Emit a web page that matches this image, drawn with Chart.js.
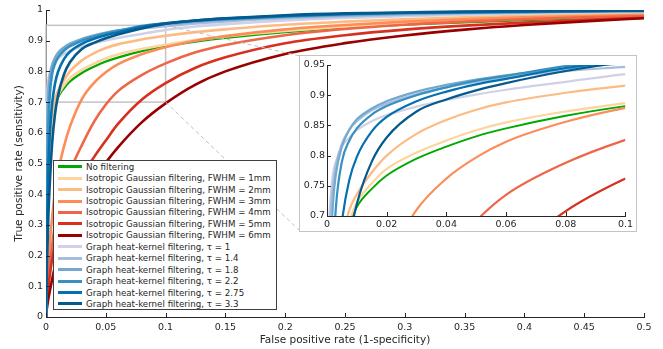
<!DOCTYPE html>
<html>
<head>
<meta charset="utf-8">
<script src="https://cdn.jsdelivr.net/npm/chart.js@4.4.1/dist/chart.umd.min.js"></script>
<style>
  html, body { margin: 0; padding: 0; background: #fff; }
  #wrap { position: relative; width: 663px; height: 349px; font-family: "DejaVu Sans", sans-serif; }
  #main { position: absolute; left: 0; top: 0; }
  #insetBox { position: absolute; left: 299px; top: 55px; width: 338px; height: 177px;
              box-sizing: border-box; border: 1px solid #c4c4c4; background: #fff; }
  #legend { position: absolute; left: 53px; top: 160px; width: 224px; height: 150px;
            box-sizing: border-box; border: 1px solid #404040; background: #fff;
            font-size: 8.7px; color: #262626; }
  .row { height: 11.44px; display: flex; align-items: center; white-space: nowrap; }
  .swatch { width: 24px; height: 3px; margin: 0 4px 0 4px; flex: none; }
</style>
</head>
<body>
<div id="wrap">
  <canvas id="main" width="663" height="349"></canvas>
  <div id="legend"></div>
  <div id="insetBox"><canvas id="inset" width="336" height="175"></canvas></div>
</div>
<script>
// false positive rate grid shared by all curves
const fpr = [0, 0.0005, 0.001, 0.002, 0.003, 0.005, 0.0075, 0.01, 0.015, 0.02, 0.03, 0.04, 0.05,
             0.06, 0.08, 0.1, 0.125, 0.15, 0.2, 0.25, 0.3, 0.35, 0.4, 0.45, 0.5];

// true positive rate for each method
const tprNone   = [0, 0.36, 0.43, 0.51, 0.56, 0.63, 0.685, 0.715, 0.745, 0.767, 0.795, 0.815, 0.832, 0.845, 0.866, 0.882, 0.897, 0.909, 0.928, 0.942, 0.952, 0.96, 0.967, 0.973, 0.978];
const tprGauss1 = [0, 0.22, 0.33, 0.46, 0.54, 0.63, 0.69, 0.722, 0.754, 0.778, 0.805, 0.825, 0.842, 0.855, 0.873, 0.887, 0.902, 0.914, 0.932, 0.946, 0.957, 0.965, 0.972, 0.977, 0.981];
const tprGauss2 = [0, 0.36, 0.45, 0.54, 0.59, 0.66, 0.71, 0.736, 0.772, 0.8, 0.836, 0.859, 0.876, 0.888, 0.904, 0.916, 0.928, 0.937, 0.952, 0.962, 0.97, 0.976, 0.981, 0.985, 0.988];
const tprGauss3 = [0, 0.06, 0.1, 0.17, 0.23, 0.32, 0.41, 0.47, 0.555, 0.62, 0.71, 0.762, 0.797, 0.823, 0.856, 0.879, 0.9, 0.915, 0.937, 0.951, 0.962, 0.97, 0.976, 0.98, 0.984];
const tprGauss4 = [0, 0.04, 0.07, 0.12, 0.16, 0.23, 0.3, 0.35, 0.42, 0.475, 0.56, 0.635, 0.692, 0.735, 0.788, 0.826, 0.862, 0.886, 0.918, 0.938, 0.952, 0.962, 0.97, 0.976, 0.98];
const tprGauss5 = [0, 0.03, 0.055, 0.095, 0.13, 0.185, 0.235, 0.275, 0.335, 0.385, 0.46, 0.52, 0.575, 0.628, 0.708, 0.762, 0.812, 0.846, 0.892, 0.918, 0.936, 0.949, 0.959, 0.967, 0.975];
const tprGauss6 = [0, 0.02, 0.035, 0.06, 0.08, 0.12, 0.165, 0.2, 0.26, 0.31, 0.385, 0.448, 0.503, 0.552, 0.634, 0.696, 0.757, 0.8, 0.857, 0.892, 0.917, 0.936, 0.951, 0.963, 0.973];
const tprHeat1   = [0, 0.62, 0.715, 0.77, 0.79, 0.815, 0.83, 0.842, 0.857, 0.867, 0.881, 0.892, 0.901, 0.909, 0.922, 0.935, 0.946, 0.954, 0.966, 0.974, 0.98, 0.985, 0.989, 0.992, 0.994];
const tprHeat14  = [0, 0.55, 0.68, 0.75, 0.785, 0.82, 0.843, 0.857, 0.875, 0.886, 0.902, 0.913, 0.922, 0.93, 0.94, 0.947, 0.956, 0.963, 0.973, 0.98, 0.985, 0.989, 0.992, 0.994, 0.996];
const tprHeat18  = [0, 0.45, 0.6, 0.72, 0.77, 0.815, 0.843, 0.86, 0.878, 0.89, 0.906, 0.917, 0.926, 0.933, 0.944, 0.953, 0.962, 0.968, 0.977, 0.983, 0.988, 0.991, 0.993, 0.995, 0.997];
const tprHeat22  = [0, 0.3, 0.45, 0.62, 0.715, 0.79, 0.825, 0.845, 0.868, 0.882, 0.9, 0.913, 0.924, 0.932, 0.948, 0.957, 0.965, 0.971, 0.98, 0.986, 0.99, 0.992, 0.994, 0.996, 0.997];
const tprHeat275 = [0, 0.2, 0.32, 0.48, 0.58, 0.69, 0.76, 0.798, 0.84, 0.864, 0.89, 0.906, 0.918, 0.927, 0.945, 0.957, 0.966, 0.972, 0.981, 0.987, 0.991, 0.993, 0.995, 0.997, 0.998];
const tprHeat33  = [0, 0.12, 0.2, 0.33, 0.42, 0.56, 0.66, 0.72, 0.79, 0.83, 0.873, 0.893, 0.908, 0.92, 0.94, 0.955, 0.966, 0.973, 0.983, 0.989, 0.992, 0.995, 0.996, 0.997, 0.998];

const seriesLabels = [
  'No filtering',
  'Isotropic Gaussian filtering, FWHM = 1mm',
  'Isotropic Gaussian filtering, FWHM = 2mm',
  'Isotropic Gaussian filtering, FWHM = 3mm',
  'Isotropic Gaussian filtering, FWHM = 4mm',
  'Isotropic Gaussian filtering, FWHM = 5mm',
  'Isotropic Gaussian filtering, FWHM = 6mm',
  'Graph heat-kernel filtering, τ = 1',
  'Graph heat-kernel filtering, τ = 1.4',
  'Graph heat-kernel filtering, τ = 1.8',
  'Graph heat-kernel filtering, τ = 2.2',
  'Graph heat-kernel filtering, τ = 2.75',
  'Graph heat-kernel filtering, τ = 3.3'
];
const seriesValues = [tprNone, tprGauss1, tprGauss2, tprGauss3, tprGauss4, tprGauss5, tprGauss6,
                      tprHeat1, tprHeat14, tprHeat18, tprHeat22, tprHeat275, tprHeat33];
const seriesColors = ['#00a800', '#fdd49e', '#fdbb84', '#fc8d59', '#ef6548', '#d7301f', '#990000',
                      '#d0d1e6', '#a6bddb', '#74a9cf', '#3690c0', '#0570b0', '#045a8d'];

const xTicksMain = [0, 0.05, 0.1, 0.15, 0.2, 0.25, 0.3, 0.35, 0.4, 0.45, 0.5];
const yTicksMain = [0, 0.1, 0.2, 0.3, 0.4, 0.5, 0.6, 0.7, 0.8, 0.9, 1];
const xTicksInset = [0, 0.02, 0.04, 0.06, 0.08, 0.1];
const yTicksInset = [0.7, 0.75, 0.8, 0.85, 0.9, 0.95];

const FONT = '"DejaVu Sans", sans-serif';
const INK = '#262626';
const fmt = v => String(parseFloat(Number(v).toFixed(3)));

function makeDatasets(width) {
  return seriesValues.map((vals, i) => ({
    label: seriesLabels[i],
    data: fpr.map((x, j) => ({ x: x, y: vals[j] })),
    borderColor: seriesColors[i],
    borderWidth: i === 0 ? width * 0.85 : width,
    pointRadius: 0,
    fill: false,
    cubicInterpolationMode: 'monotone',
    order: -i
  }));
}

function axis(min, max, tickList, pad, extra) {
  return Object.assign({
    type: 'linear', min: min, max: max,
    afterBuildTicks: s => { s.ticks = tickList.map(v => ({ value: v })); },
    grid: { display: false, drawTicks: false },
    border: { display: true, color: INK, width: 1 },
    ticks: { padding: pad, color: INK, font: { family: FONT, size: 9.5 },
             callback: fmt, autoSkip: false, maxRotation: 0 }
  }, extra);
}

// MATLAB style: tick marks point into the plot
const inwardTicks = {
  id: 'inwardTicks',
  afterDraw(chart) {
    const { ctx, chartArea: a, scales: { x, y } } = chart;
    ctx.save();
    ctx.strokeStyle = INK;
    ctx.lineWidth = 1;
    ctx.beginPath();
    x.ticks.forEach(t => {
      const px = Math.round(x.getPixelForValue(t.value)) + 0.5;
      ctx.moveTo(px, a.bottom); ctx.lineTo(px, a.bottom - 4);
    });
    y.ticks.forEach(t => {
      const py = Math.round(y.getPixelForValue(t.value)) + 0.5;
      ctx.moveTo(a.left, py); ctx.lineTo(a.left + 4, py);
    });
    ctx.stroke();
    ctx.restore();
  }
};

// zoom rectangle plus dashed connectors to the inset box
const zoomBox = {
  id: 'zoomBox',
  beforeDatasetsDraw(chart) {
    const { ctx, scales: { x, y } } = chart;
    const l = x.getPixelForValue(0), r = x.getPixelForValue(0.1);
    const t = y.getPixelForValue(0.95), b = y.getPixelForValue(0.7);
    ctx.save();
    ctx.strokeStyle = '#c4c4c4';
    ctx.lineWidth = 1.5;
    ctx.strokeRect(l, t, r - l, b - t);
    ctx.restore();
  },
  afterDatasetsDraw(chart) {
    const { ctx, scales: { x, y } } = chart;
    const r = x.getPixelForValue(0.1);
    const t = y.getPixelForValue(0.95), b = y.getPixelForValue(0.7);
    ctx.save();
    ctx.strokeStyle = '#c0c0c0';
    ctx.lineWidth = 1;
    ctx.setLineDash([4, 3]);
    ctx.beginPath();
    ctx.moveTo(r, t); ctx.lineTo(300, 56);
    ctx.moveTo(r, b); ctx.lineTo(300, 231);
    ctx.stroke();
    ctx.restore();
  }
};

new Chart(document.getElementById('main'), {
  type: 'line',
  data: { datasets: makeDatasets(2.6) },
  options: {
    responsive: false, animation: false, devicePixelRatio: 1,
    layout: { padding: { left: 0, right: 19, top: 10, bottom: 0 } },
    plugins: { legend: { display: false }, tooltip: { enabled: false } },
    scales: {
      x: axis(0, 0.5, xTicksMain, 5, {
        afterFit: s => { s.height = 32; },
        title: { display: true, text: 'False positive rate (1-specificity)', color: INK,
                 font: { family: FONT, size: 10.5 }, padding: { top: 0, bottom: 2 } }
      }),
      y: axis(0, 1, yTicksMain, 3, {
        afterFit: s => { s.width = 46; },
        title: { display: true, text: 'True positive rate (sensitivity)', color: INK,
                 font: { family: FONT, size: 10.5 }, padding: { top: 13, bottom: 0 } }
      })
    }
  },
  plugins: [zoomBox, inwardTicks]
});

new Chart(document.getElementById('inset'), {
  type: 'line',
  data: { datasets: makeDatasets(2.2) },
  options: {
    responsive: false, animation: false, devicePixelRatio: 1,
    layout: { padding: { left: 0, right: 8, top: 9, bottom: 0 } },
    plugins: { legend: { display: false }, tooltip: { enabled: false } },
    scales: {
      x: axis(0, 0.1, xTicksInset, 3, { afterFit: s => { s.height = 15; } }),
      y: axis(0.7, 0.95, yTicksInset, 2, { afterFit: s => { s.width = 27; } })
    }
  },
  plugins: [inwardTicks]
});

// legend box
const legend = document.getElementById('legend');
seriesLabels.forEach((label, i) => {
  const row = document.createElement('div');
  row.className = 'row';
  const sw = document.createElement('span');
  sw.className = 'swatch';
  sw.style.background = seriesColors[i];
  const txt = document.createElement('span');
  txt.textContent = label;
  row.appendChild(sw);
  row.appendChild(txt);
  legend.appendChild(row);
});
</script>
</body>
</html>
